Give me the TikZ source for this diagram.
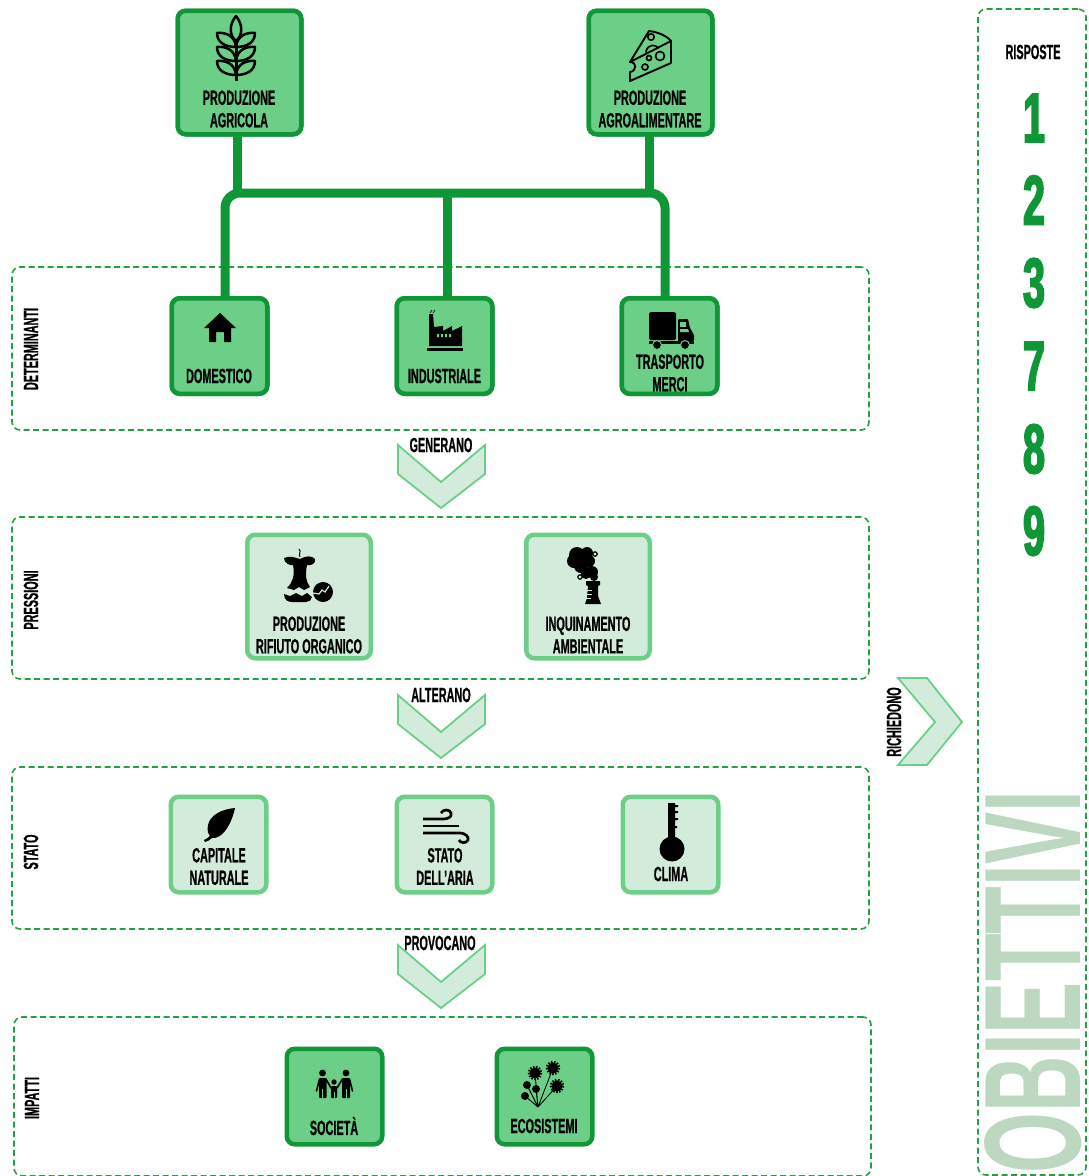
\documentclass[tikz,border=0pt]{standalone}
\usepackage{fontspec}
\usepackage{graphicx}
\setmainfont[FakeStretch=0.53,FakeBold=0.7]{Liberation Sans Bold}
\newfontfamily\heavyf[FakeStretch=0.56,FakeBold=2.5]{Liberation Sans Bold}
\newfontfamily\objf[FakeStretch=0.56]{Liberation Sans Bold}
\definecolor{dkg}{HTML}{0F9637}
\definecolor{mdg}{HTML}{6BCF87}
\definecolor{ltg}{HTML}{D3EBDA}
\definecolor{dsh}{HTML}{23A03F}
\definecolor{obj}{HTML}{BCD8C0}
\tikzset{
  every node/.style={inner sep=0,outer sep=0},
  framebox/.style={draw=dsh,line width=1.6pt,dash pattern=on 6pt off 3.5pt,rounded corners=8pt},
  darkbox/.style={draw=dkg,fill=mdg,line width=4.5pt,rounded corners=8pt,inner sep=0},
  lightbox/.style={draw=mdg,fill=ltg,line width=4.5pt,rounded corners=8pt,inner sep=0},
  bigbox/.style={minimum width=123.5pt,minimum height=123.5pt},
  smallbox/.style={minimum width=95.5pt,minimum height=95.5pt},
  chev/.style={draw=mdg,fill=ltg,line width=1.8pt,line join=miter},
  link/.style={draw=dkg,line width=9pt},
  txt/.style={font=\fontsize{20.5}{22.5}\selectfont,align=center,text=black},
  nums/.style={font=\fontsize{70}{70}\heavyf,text=dkg},
  ic/.style={line width=2.5pt,draw=black,line cap=round,line join=round}
}
\newcommand{\chevdown}[1]{\path[chev] (398,#1) -- (441,#1+37) -- (485,#1) -- (485,#1+29) -- (441,#1+63) -- (398,#1+29) -- cycle;}
\begin{document}
\begin{tikzpicture}[x=1pt,y=-1pt]
\useasboundingbox (0,0) rectangle (1088,1176);
% frames
\node[framebox,minimum width=857pt,minimum height=163pt] (fdet) at (440.5,348.5) {};
\node[framebox,minimum width=857pt,minimum height=162pt] (fpre) at (440.5,598) {};
\node[framebox,minimum width=857pt,minimum height=162pt] (fsta) at (440.5,848) {};
\node[framebox,minimum width=857pt,minimum height=159pt] (fimp) at (442.5,1096.5) {};
\node[framebox,minimum width=108pt,minimum height=1166pt] (fobj) at (1032,592) {};
% OBIETTIVI
\node[rotate=90,text=obj] (tobj) at (1033,982) {\resizebox{382pt}{96pt}{\objf\fontsize{137}{137}\selectfont OBIETTIVI}};
% boxes
\node[darkbox,bigbox] (agri) at (239.5,72.5) {};
\node[darkbox,bigbox] (alim) at (650.5,72.5) {};
\node[darkbox,smallbox] (dome) at (219.5,346) {};
\node[darkbox,smallbox] (indu) at (444.5,346) {};
\node[darkbox,smallbox] (tras) at (669.5,346) {};
% connectors
\coordinate (c1) at (237,193);
\coordinate (c2) at (649,193);
\coordinate (b1) at (225,193);
\coordinate (b2) at (447,193);
\coordinate (b3) at (665,193);
\draw[link] (agri.south -| c1) -- (c1);
\draw[link] (alim.south -| c2) -- (c2);
\draw[link,rounded corners=15pt] (dome.north -| b1) -- (b1) -- (b3) -- (tras.north -| b3);
\draw[link] (indu.north -| b2) -- (b2);
% redraw boxes on top of connectors
\node[darkbox,bigbox] (agri2) at (239.5,72.5) {};
\node[darkbox,bigbox] (alim2) at (650.5,72.5) {};
\node[darkbox,smallbox] (dome2) at (219.5,346) {};
\node[darkbox,smallbox] (indu2) at (444.5,346) {};
\node[darkbox,smallbox] (tras2) at (669.5,346) {};
\node[lightbox,bigbox] (rifi) at (309,596.5) {};
\node[lightbox,bigbox] (inqu) at (588,596.5) {};
\node[lightbox,smallbox] (capi) at (218.5,844.5) {};
\node[lightbox,smallbox] (aria) at (444.5,844.5) {};
\node[lightbox,smallbox] (clim) at (670.5,844.5) {};
\node[darkbox,smallbox] (soci) at (334.5,1096.5) {};
\node[darkbox,smallbox] (ecos) at (544.5,1096.5) {};
% chevrons
\chevdown{445}
\chevdown{695}
\chevdown{945}
\path[chev] (898,678) -- (927,678) -- (962,722) -- (927,765) -- (898,765) -- (935,722) -- cycle;
% labels
\node[txt] (l1) at (239,109) {PRODUZIONE\\AGRICOLA};
\node[txt] (l2) at (650,109) {PRODUZIONE\\AGROALIMENTARE};
\node[txt] (l3) at (219,376) {DOMESTICO};
\node[txt] (l4) at (444.5,376) {INDUSTRIALE};
\node[txt] (l5) at (670,373) {TRASPORTO\\MERCI};
\node[txt] (l6) at (309,635) {PRODUZIONE\\RIFIUTO ORGANICO};
\node[txt] (l7) at (588,635) {INQUINAMENTO\\AMBIENTALE};
\node[txt] (l8) at (219,866.5) {CAPITALE\\NATURALE};
\node[txt] (l9) at (445,866.5) {STATO\\DELL'ARIA};
\node[txt] (l10) at (671,874) {CLIMA};
\node[txt] (l11) at (334,1126) {SOCIETÀ};
\node[txt] (l12) at (544,1126) {ECOSISTEMI};
\node[txt,rotate=90] (f1) at (31,349) {DETERMINANTI};
\node[txt,rotate=90] (f2) at (31,600) {PRESSIONI};
\node[txt,rotate=90] (f3) at (31,852) {STATO};
\node[txt,rotate=90] (f4) at (32,1098) {IMPATTI};
\node[txt] (g1) at (441,445) {GENERANO};
\node[txt] (g2) at (441,695) {ALTERANO};
\node[txt] (g3) at (440,943) {PROVOCANO};
\node[txt,rotate=90] (g4) at (894,722) {RICHIEDONO};
\node[txt] (ris) at (1033,52) {RISPOSTE};
\node[nums] (n1) at (1034,118) {1};
\node[nums] (n2) at (1034,200) {2};
\node[nums] (n3) at (1034,283) {3};
\node[nums] (n7) at (1034,366) {7};
\node[nums] (n8) at (1034,449) {8};
\node[nums] (n9) at (1034,531) {9};
% --- icons ---
% wheat
\draw[ic] (236,16) .. controls (228,26) and (230,36) .. (236,41) .. controls (242,36) and (244,26) .. (236,16) -- cycle;
\draw[ic,line width=3pt,line cap=butt] (236,40) -- (236,81);
\foreach \y in {33,47,61}{
 \draw[ic] (236,\y+14) .. controls (226,\y+14) and (217,\y+10) .. (217,\y) .. controls (226,\y-1) and (235,\y+3) .. (236,\y+14);
 \draw[ic] (236,\y+14) .. controls (246,\y+14) and (255,\y+10) .. (255,\y) .. controls (246,\y-1) and (237,\y+3) .. (236,\y+14);
}
% cheese
\draw[ic,line width=1.9pt] (630,81) -- (630,72) .. controls (637,71) and (637,62) .. (630,62) -- (649,31) .. controls (658,32) and (667,36) .. (671,41) -- (671,63) -- cycle;
\draw[ic,line width=1.9pt] (630,62) -- (671,41);
\draw[ic,line width=1.7pt] (651,37) circle (3.2);
\draw[ic,line width=1.7pt] (646,52) .. controls (647,44) and (656,44) .. (658,48);
\draw[ic,line width=1.7pt] (660,56) circle (4.5);
\draw[ic,line width=1.7pt] (649,58) circle (2.5);
\draw[ic,line width=1.7pt] (645,67) circle (3);
% house
\fill (220,313) -- (236,328) -- (231,328) -- (231,342) -- (224,342) -- (224,332) -- (216,332) -- (216,342) -- (209,342) -- (209,328) -- (204,328) -- cycle;
% factory
\fill (429,314) -- (433,314) -- (434,327) -- (443,326) -- (443,331) -- (452,326) -- (452,331) -- (462,326) -- (462,346) -- (429,346) -- cycle;
\fill (427,348) rectangle (463,351);
\fill[mdg] (437,334) rectangle (439,337) (441,334) rectangle (443,337) (445,334) rectangle (447,337) (449,334) rectangle (451,337);
\draw[line width=.6pt] (430,313) -- (432,310) (433,313) -- (435,310);
% truck
\fill[rounded corners=1.5pt] (649,312) rectangle (676,340);
\fill[rounded corners=1pt] (678,319) -- (688,319) -- (690,328) -- (694,335) -- (694,341) -- (678,341) -- cycle;
\fill[mdg] (680,322) rectangle (686,327);
\fill[mdg] (680,329) -- (688,329) -- (689,332) -- (680,332) -- cycle;
\fill (649,341) rectangle (694,344);
\filldraw[draw=mdg,line width=1pt] (657,345) circle (4.5) (685,345) circle (4.5);
% apple core
\draw[line width=1pt] (299,549) .. controls (302,552) and (298,554) .. (300,557);
\fill (284,558) .. controls (290,555) and (296,558) .. (300,559) .. controls (305,556) and (312,555) .. (315,559) .. controls (316,563) and (312,566) .. (307,565) .. controls (305,575) and (306,582) .. (310,587) -- (304,590) -- (299,587) -- (294,590) -- (287,588) .. controls (293,582) and (295,575) .. (293,565) .. controls (290,566) and (284,563) .. (284,558) -- cycle;
\fill (284,594) -- (290,596) -- (296,593) -- (302,596) -- (307,593) -- (312,597) .. controls (312,600) and (309,602) .. (306,602) -- (292,602) .. controls (288,602) and (284,600) .. (284,594) -- cycle;
\fill (323,592) circle (10);
\draw[draw=ltg,line width=1.2pt] (313,593) -- (319,594) -- (322,590) -- (325,592) -- (329,586);
% smoke
\fill (586,581) -- (600,581) -- (600,585) -- (598,586) -- (598,596) -- (601,604) -- (585,604) -- (587,598) -- (588,586) -- (586,585) -- cycle;
\draw[draw=ltg,line width=1pt] (587,590) -- (592,590) (587,594) -- (592,594) (586,598) -- (591,598);
\fill (577,555) circle (8) (587,553) circle (6) (574,561) circle (7) (581,566) circle (7) (589,561) circle (6) (592,572) circle (6) (594,577) circle (4) (586,574) circle (5);
\draw[line width=1.2pt] (595,554) circle (2.2) (580,577) circle (2.2);
% leaf
\fill (235,808) .. controls (222,809) and (210,815) .. (208,825) .. controls (207,830) and (208,834) .. (210,836) .. controls (208,838) and (206,839) .. (204,840) -- (205,842) .. controls (208,841) and (210,840) .. (212,838) .. controls (222,839) and (231,826) .. (235,808) -- cycle;
% wind
\draw[ic,line width=2.7pt,line cap=butt] (423,819) -- (442,819) .. controls (450,819) and (452,816) .. (451,813) .. controls (450,809) and (443,809) .. (441,813);
\draw[ic,line width=2.7pt,line cap=butt] (423,826) -- (459,826);
\draw[ic,line width=2.7pt,line cap=butt] (423,833) -- (459,833) .. controls (466,833) and (469,837) .. (468,840) .. controls (466,844) and (460,843) .. (459,840);
% thermometer
\fill (668,803) -- (675,803) -- (675,805) -- (678,805) -- (678,807) -- (675,807) -- (675,811) -- (678,811) -- (678,813) -- (675,813) -- (675,818) -- (678,818) -- (678,820) -- (675,820) -- (675,826) -- (677,826) -- (677,828) -- (675,828) -- (675,842) -- (668,842) -- cycle;
\fill (672,849) circle (12.5);
% family
\fill (322.5,1073) circle (3.4) (346,1073) circle (3.4) (334,1082) circle (2.7);
\fill[rounded corners=1pt] (319,1078) rectangle (326.5,1098);
\fill[rounded corners=1pt] (342,1078) rectangle (350,1098);
\fill[rounded corners=.8pt] (331,1086) rectangle (337,1098);
\draw[line width=1.6pt,line cap=round] (319.5,1079) -- (316.5,1091) (326,1079) -- (331,1088) (349.5,1079) -- (352.5,1091) (342.5,1079) -- (337,1088);
\draw[draw=mdg,line width=.8pt] (322.7,1089) -- (322.7,1099) (346,1089) -- (346,1099) (334,1092) -- (334,1099);
% flowers
\draw[line width=.9pt] (538,1107) -- (535,1073) (538,1107) -- (553,1068) (538,1107) -- (557,1086) (538,1107) -- (527,1085) (538,1107) -- (536,1089) (538,1107) -- (525,1096);
\foreach \x/\y in {535/1073,553/1068,557/1086}{
 \fill (\x,\y) circle (5.6);
 \draw[line width=2pt,dash pattern=on 1.5pt off 1.5pt] (\x,\y) circle (6.2);
}
\fill (527,1085) circle (4) (536,1089) circle (4) (525,1096) circle (4);
\end{tikzpicture}
\end{document}
